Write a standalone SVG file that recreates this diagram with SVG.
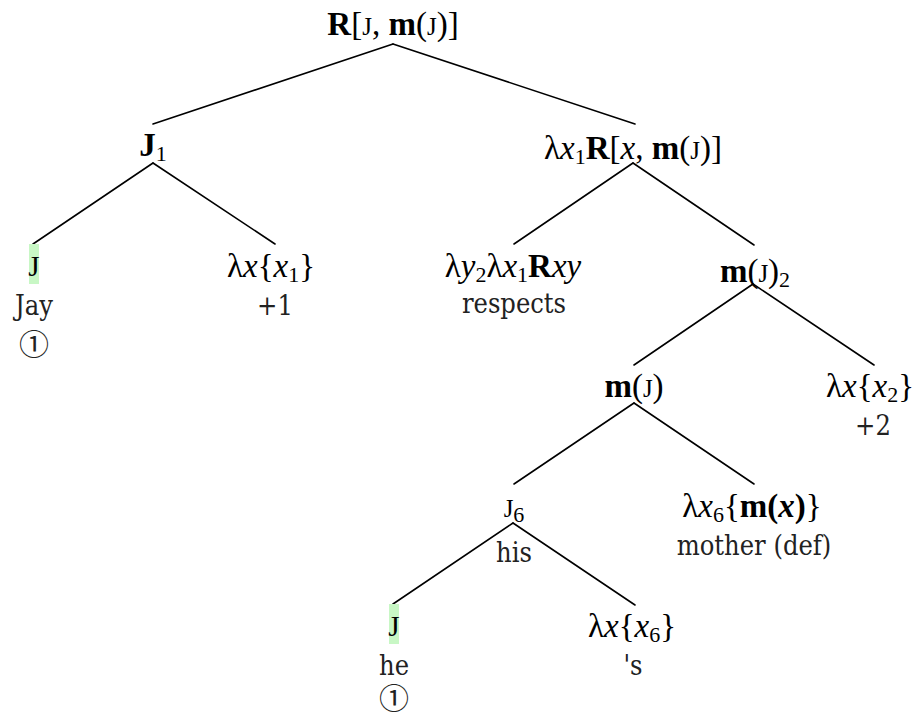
<svg xmlns="http://www.w3.org/2000/svg" width="918" height="713" viewBox="0 0 918 713">
<style>
.m{font-family:"Liberation Serif","Times New Roman",serif;font-size:33px;fill:#000;text-anchor:middle}
.b{font-weight:bold}
.i{font-style:italic}
.sc{font-size:25px}
.sub{font-size:22px}
.lj{font-size:29px}
.c{font-family:"DejaVu Serif Condensed","DejaVu Serif",serif;font-stretch:condensed;font-size:27px;fill:#222;text-anchor:middle}
.circ{font-family:"Noto Sans CJK JP","DejaVu Sans",sans-serif;font-size:30px;fill:#222;text-anchor:middle}
.hl{fill:#c8f7c5}
.edge{stroke:#000;stroke-width:1.6;fill:none;stroke-linecap:round}
</style>
<g id="connectors">
<line class="edge" x1="393" y1="44" x2="153" y2="124"/>
<line class="edge" x1="393" y1="44" x2="635" y2="124"/>
<line class="edge" x1="153" y1="163" x2="33" y2="244"/>
<line class="edge" x1="153" y1="163" x2="275" y2="244"/>
<line class="edge" x1="633" y1="163" x2="514" y2="244"/>
<line class="edge" x1="633" y1="163" x2="754" y2="245"/>
<line class="edge" x1="753" y1="284" x2="634" y2="365"/>
<line class="edge" x1="753" y1="284" x2="874" y2="365"/>
<line class="edge" x1="634" y1="403" x2="514" y2="484"/>
<line class="edge" x1="634" y1="403" x2="754" y2="484"/>
<line class="edge" x1="513" y1="523" x2="393" y2="604"/>
<line class="edge" x1="513" y1="523" x2="635" y2="605"/>
</g>
<g id="root">
<text class="m" x="393" y="35"><tspan class="b">R</tspan>[<tspan class="sc">J</tspan>, <tspan class="b">m</tspan>(<tspan class="sc">J</tspan>)]</text>
</g>
<g id="j1">
<text class="m" x="153" y="156"><tspan class="b">J</tspan><tspan class="sub" dy="5">1</tspan></text>
</g>
<g id="jay">
<rect class="hl" x="29" y="244" width="10" height="40"/>
<text class="m lj" x="34" y="276">J</text>
<text class="c" x="34" y="315">Jay</text>
<text class="circ" x="34" y="355">①</text>
</g>
<g id="plus1">
<text class="m" x="271" y="277">λ<tspan class="i">x</tspan>{<tspan class="i">x</tspan><tspan class="sub" dy="5">1</tspan><tspan dy="-5">}</tspan></text>
<text class="c" x="275" y="315">+1</text>
</g>
<g id="vp">
<text class="m" x="633" y="159">λ<tspan class="i">x</tspan><tspan class="sub" dy="5">1</tspan><tspan class="b" dy="-5">R</tspan>[<tspan class="i">x</tspan>, <tspan class="b">m</tspan>(<tspan class="sc">J</tspan>)]</text>
</g>
<g id="respects">
<text class="m" x="513" y="277">λ<tspan class="i">y</tspan><tspan class="sub" dy="5">2</tspan><tspan dy="-5">λ</tspan><tspan class="i">x</tspan><tspan class="sub" dy="5">1</tspan><tspan class="b" dy="-5">R</tspan><tspan class="i">xy</tspan></text>
<text class="c" x="514" y="313">respects</text>
</g>
<g id="obj">
<text class="m" x="755" y="282"><tspan class="b">m</tspan>(<tspan class="sc">J</tspan>)<tspan class="sub" dy="5">2</tspan></text>
</g>
<g id="mj">
<text class="m" x="634" y="397"><tspan class="b">m</tspan>(<tspan class="sc">J</tspan>)</text>
</g>
<g id="plus2">
<text class="m" x="870" y="397">λ<tspan class="i">x</tspan>{<tspan class="i">x</tspan><tspan class="sub" dy="5">2</tspan><tspan dy="-5">}</tspan></text>
<text class="c" x="873" y="435">+2</text>
</g>
<g id="j6">
<text class="m" x="514" y="517"><tspan class="sc">J</tspan><tspan class="sub" dy="5">6</tspan></text>
<text class="c" x="514" y="562">his</text>
</g>
<g id="mother">
<text class="m" x="752" y="517">λ<tspan class="i">x</tspan><tspan class="sub" dy="5">6</tspan><tspan dy="-5">{</tspan><tspan class="b">m(</tspan><tspan class="b i">x</tspan><tspan class="b">)</tspan>}</text>
<text class="c" x="754" y="555">mother (def)</text>
</g>
<g id="he">
<rect class="hl" x="389" y="604" width="10" height="40"/>
<text class="m lj" x="394" y="636">J</text>
<text class="c" x="394" y="675">he</text>
<text class="circ" x="394" y="709">①</text>
</g>
<g id="s">
<text class="m" x="632" y="637">λ<tspan class="i">x</tspan>{<tspan class="i">x</tspan><tspan class="sub" dy="5">6</tspan><tspan dy="-5">}</tspan></text>
<text class="c" x="633" y="675">'s</text>
</g>
</svg>
